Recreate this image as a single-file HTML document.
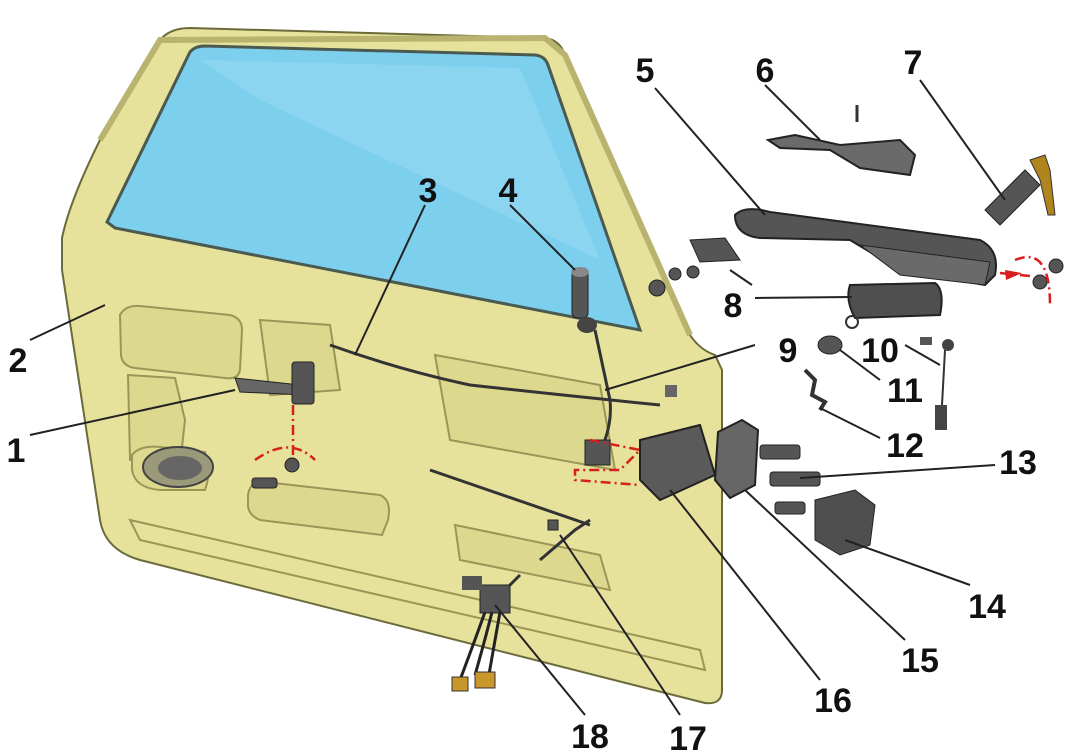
<!DOCTYPE html>
<html><head><meta charset="utf-8"><style>
html,body{margin:0;padding:0;background:#fff;}
svg{display:block}
text{font-family:"Liberation Sans",sans-serif;font-weight:bold;font-size:34px;fill:#111;text-anchor:middle}
</style></head><body>
<svg width="1075" height="753" viewBox="0 0 1075 753" xmlns="http://www.w3.org/2000/svg">
<!-- door -->
<path d="M62,238 Q70,200 100,140 L160,40 Q170,28 190,28 L545,38 Q560,40 565,55 L690,335 Q700,350 715,355 L722,370 L722,690 Q722,705 705,703 L140,560 Q105,550 100,520 L62,270 Z" fill="#e6e29c" stroke="#6b6a3a" stroke-width="2"/>
<path d="M100,140 L160,40 L545,38 L565,55 L690,335" fill="none" stroke="#b8b470" stroke-width="6"/>
<!-- glass -->
<path d="M107,222 L190,52 Q195,46 205,46 L535,55 Q545,56 548,65 L640,330 L115,228 Z" fill="#7dcfee" stroke="#4a5a50" stroke-width="3"/>
<path d="M200,60 L520,68 L600,260 L260,100 Z" fill="#9adcf3" opacity="0.5"/>
<!-- inner panel recesses -->
<g fill="#dcd88e" stroke="#9a9658" stroke-width="2">
<path d="M120,315 Q125,305 140,306 L230,315 Q242,318 242,330 L240,370 Q238,380 225,378 L135,368 Q122,366 121,355 Z"/>
<path d="M128,375 L175,378 L185,420 L180,465 L130,460 Z"/>
<path d="M132,455 Q140,445 160,447 L205,452 Q212,470 205,490 L160,490 Q135,488 132,470 Z"/>
<path d="M248,495 Q250,480 265,482 L380,495 Q392,500 388,520 L382,535 L260,520 Q248,515 248,505 Z"/>
<path d="M435,355 L600,385 L615,470 L450,440 Z"/>
<path d="M455,525 L600,555 L610,590 L460,560 Z"/>
<path d="M260,320 L330,325 L340,390 L270,395 Z"/>
<path d="M130,520 L700,650 L705,670 L140,540 Z" fill="none"/>
</g>
<ellipse cx="178" cy="467" rx="35" ry="20" fill="#9a9a7a" stroke="#444" stroke-width="2"/>
<ellipse cx="180" cy="468" rx="22" ry="12" fill="#666"/>
<!-- inner handle 1 -->
<path d="M235,378 L300,385 L305,395 L240,392 Z" fill="#666" stroke="#222"/>
<rect x="292" y="362" width="22" height="42" rx="3" fill="#555" stroke="#222"/>
<!-- rods -->
<g fill="none" stroke="#333" stroke-width="3">
<path d="M330,345 Q400,370 470,385 Q560,395 660,405"/>
<path d="M595,330 L610,400 Q612,420 605,440"/>
<path d="M430,470 L590,525"/>
<path d="M540,560 L575,530 L590,520"/>
<path d="M495,600 L520,575"/>
</g>
<!-- rod 4 part -->
<rect x="572" y="268" width="16" height="50" rx="5" fill="#555" stroke="#222"/>
<ellipse cx="580" cy="272" rx="9" ry="5" fill="#888"/>
<ellipse cx="587" cy="325" rx="10" ry="8" fill="#444"/>
<!-- latch 16, 15 -->
<path d="M640,440 L700,425 L715,475 L660,500 L640,480 Z" fill="#5a5a5a" stroke="#222" stroke-width="2"/>
<path d="M718,432 L742,420 L758,430 L755,485 L730,498 L715,480 Z" fill="#666" stroke="#222" stroke-width="2"/>
<rect x="585" y="440" width="25" height="25" fill="#555" stroke="#222"/>
<rect x="665" y="385" width="12" height="12" fill="#666"/>
<!-- part 14 -->
<path d="M815,500 L855,490 L875,505 L870,545 L840,555 L815,540 Z" fill="#4f4f4f" stroke="#222"/>
<!-- screws 13 -->
<g fill="#555" stroke="#222">
<rect x="760" y="445" width="40" height="14" rx="3"/>
<rect x="770" y="472" width="50" height="14" rx="3"/>
<rect x="775" y="502" width="30" height="12" rx="3"/>
<rect x="252" y="478" width="25" height="10" rx="3"/>
<circle cx="292" cy="465" r="7"/>
<circle cx="657" cy="288" r="8"/>
<circle cx="675" cy="274" r="6"/><circle cx="693" cy="272" r="6"/>
<circle cx="1040" cy="282" r="7"/><circle cx="1056" cy="266" r="7"/>
<rect x="548" y="520" width="10" height="10"/>
</g>
<!-- 5 outer handle -->
<path d="M735,215 Q745,205 770,212 L980,240 Q1000,250 995,275 L985,285 L900,270 L850,240 L760,238 Q735,235 735,215 Z" fill="#555" stroke="#222" stroke-width="2"/>
<path d="M860,245 L990,262 L985,285 L900,275 Z" fill="#6a6a6a" stroke="#222"/>
<!-- 6 -->
<path d="M768,140 L795,135 L840,145 L900,140 L915,155 L910,175 L860,168 L830,150 L780,148 Z" fill="#6a6a6a" stroke="#222" stroke-width="2"/>
<line x1="857" y1="105" x2="857" y2="122" stroke="#333" stroke-width="3"/>
<!-- 7 lock cylinder -->
<path d="M985,210 L1025,170 L1040,185 L1000,225 Z" fill="#555" stroke="#222"/>
<path d="M1030,160 L1045,155 L1050,170 L1055,215 L1048,215 L1040,180 Z" fill="#b0851e" stroke="#333"/>
<!-- 8 -->
<path d="M690,240 L725,238 L740,260 L700,262 Z" fill="#555" stroke="#222"/>
<path d="M850,285 L935,283 Q945,290 940,315 L855,318 Q845,300 850,285 Z" fill="#4f4f4f" stroke="#222" stroke-width="2"/>
<!-- 10,11,12 -->
<ellipse cx="830" cy="345" rx="12" ry="9" fill="#555" stroke="#222"/>
<circle cx="852" cy="322" r="6" fill="none" stroke="#333" stroke-width="2"/>
<circle cx="948" cy="345" r="6" fill="#444"/>
<line x1="945" y1="350" x2="942" y2="405" stroke="#333" stroke-width="2"/>
<rect x="935" y="405" width="12" height="25" fill="#444"/>
<rect x="920" y="337" width="12" height="8" fill="#555"/>
<path d="M805,370 L815,380 L812,395 L825,402 L820,410" fill="none" stroke="#333" stroke-width="4"/>
<!-- 18 wiring -->
<rect x="480" y="585" width="30" height="28" fill="#555" stroke="#222"/>
<rect x="462" y="576" width="20" height="14" fill="#555"/>
<path d="M485,612 Q475,640 460,680 M492,612 Q485,640 475,675 M500,612 Q495,640 488,680" fill="none" stroke="#222" stroke-width="3"/>
<rect x="452" y="677" width="16" height="14" fill="#c8962a" stroke="#333"/>
<rect x="475" y="672" width="20" height="16" fill="#c8962a" stroke="#333"/>
<!-- red dash-dot lines -->
<g fill="none" stroke="#d81e1e" stroke-width="2.5" stroke-dasharray="10,4,2,4">
<path d="M255,460 Q290,435 315,460"/>
<line x1="293" y1="405" x2="293" y2="455"/>
<path d="M1015,260 Q1050,245 1050,305"/>
<line x1="1000" y1="273" x2="1030" y2="276"/>
<path d="M590,440 L640,450 L620,470 L575,470 L575,480 L640,485"/>
</g>
<path d="M1005,270 L1022,273 L1006,280 Z" fill="#d81e1e"/>
<!-- leader lines -->
<g stroke="#222" stroke-width="2" fill="none">
<line x1="30" y1="435" x2="235" y2="390"/>
<line x1="30" y1="340" x2="105" y2="305"/>
<line x1="425" y1="205" x2="355" y2="355"/>
<line x1="510" y1="205" x2="575" y2="270"/>
<line x1="655" y1="88" x2="765" y2="215"/>
<line x1="765" y1="85" x2="820" y2="140"/>
<line x1="920" y1="80" x2="1005" y2="200"/>
<line x1="755" y1="298" x2="852" y2="297"/>
<line x1="730" y1="270" x2="752" y2="285"/>
<line x1="755" y1="345" x2="605" y2="390"/>
<line x1="905" y1="345" x2="940" y2="365"/>
<line x1="880" y1="380" x2="840" y2="350"/>
<line x1="880" y1="438" x2="820" y2="408"/>
<line x1="995" y1="465" x2="800" y2="478"/>
<line x1="970" y1="585" x2="845" y2="540"/>
<line x1="905" y1="640" x2="745" y2="490"/>
<line x1="820" y1="680" x2="670" y2="490"/>
<line x1="680" y1="715" x2="560" y2="535"/>
<line x1="585" y1="715" x2="495" y2="605"/>
</g>
<!-- labels -->
<text x="16" y="462">1</text>
<text x="18" y="372">2</text>
<text x="428" y="202">3</text>
<text x="508" y="202">4</text>
<text x="645" y="82">5</text>
<text x="765" y="82">6</text>
<text x="913" y="74">7</text>
<text x="733" y="317">8</text>
<text x="788" y="362">9</text>
<text x="880" y="362">10</text>
<text x="905" y="402">11</text>
<text x="905" y="457">12</text>
<text x="1018" y="474">13</text>
<text x="987" y="618">14</text>
<text x="920" y="672">15</text>
<text x="833" y="712">16</text>
<text x="688" y="750">17</text>
<text x="590" y="748">18</text>
</svg>
</body></html>
